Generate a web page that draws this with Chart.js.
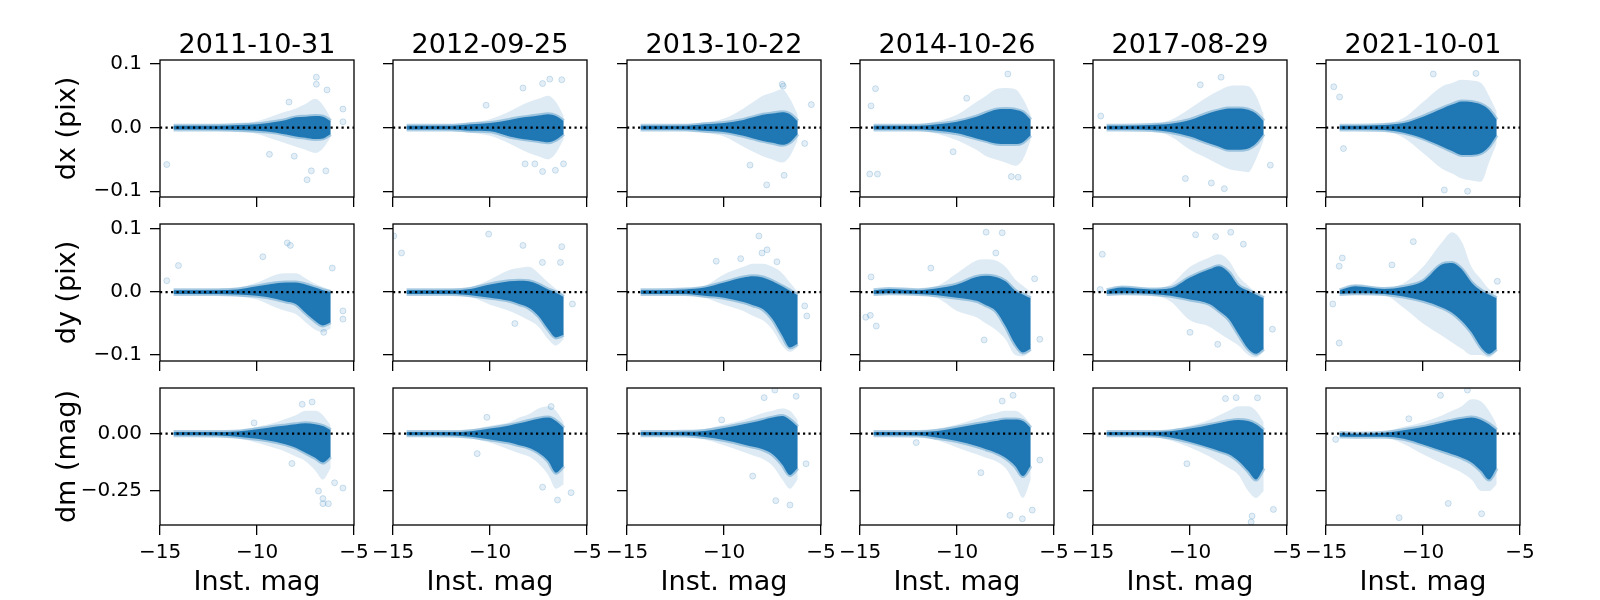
<!DOCTYPE html>
<html>
<head>
<meta charset="utf-8">
<script src="https://cdn.jsdelivr.net/npm/chart.js@4.4.0/dist/chart.umd.min.js"></script>
<style>
  html, body { margin: 0; padding: 0; background: #fff; }
  #fig { position: relative; width: 1600px; height: 600px; overflow: hidden; }
  #fig canvas { position: absolute; }
</style>
</head>
<body>
<div id="fig"></div>
<script>
// ======== DATA ===========
const dates = ['2011-10-31', '2012-09-25', '2013-10-22', '2014-10-26', '2017-08-29', '2021-10-01'];
const rowLabels = ['dx (pix)', 'dy (pix)', 'dm (mag)'];
const xLabel = 'Inst. mag';
const xTicks = [-15, -10, -5];
const yTicks = [[-0.1, 0, 0.1], [-0.1, 0, 0.1], [-0.25, 0]];
const yDecimals = [1, 1, 2];
const yRange = [[-0.109, 0.106], [-0.1095, 0.108], [-0.398, 0.199]];

const mags = [-14.3, -13.5, -12, -11, -10, -9, -8.5, -8, -7.5, -7, -6.6, -6.2];

// dx: dense core and faint halo, upper / lower edge per date
const dxCoreHi = [
  [0.003, 0.003, 0.003, 0.004, 0.005, 0.009, 0.012, 0.016, 0.017, 0.018, 0.017, 0.01],
  [0.003, 0.003, 0.003, 0.005, 0.007, 0.012, 0.015, 0.017, 0.019, 0.021, 0.018, 0.01],
  [0.003, 0.003, 0.003, 0.005, 0.007, 0.012, 0.016, 0.02, 0.022, 0.024, 0.021, 0.01],
  [0.003, 0.003, 0.003, 0.005, 0.009, 0.017, 0.023, 0.028, 0.029, 0.028, 0.024, 0.012],
  [0.003, 0.003, 0.004, 0.006, 0.012, 0.023, 0.027, 0.03, 0.03, 0.028, 0.022, 0.01],
  [0.003, 0.003, 0.004, 0.007, 0.017, 0.03, 0.036, 0.041, 0.04, 0.036, 0.028, 0.012]
];
const dxCoreLo = [
  [-0.003, -0.003, -0.003, -0.004, -0.005, -0.008, -0.011, -0.014, -0.016, -0.018, -0.017, -0.01],
  [-0.003, -0.003, -0.003, -0.005, -0.006, -0.014, -0.017, -0.019, -0.021, -0.023, -0.019, -0.01],
  [-0.003, -0.003, -0.003, -0.005, -0.007, -0.013, -0.017, -0.021, -0.024, -0.027, -0.023, -0.01],
  [-0.003, -0.003, -0.003, -0.005, -0.009, -0.017, -0.021, -0.025, -0.026, -0.026, -0.023, -0.012],
  [-0.003, -0.003, -0.004, -0.007, -0.014, -0.025, -0.03, -0.035, -0.035, -0.033, -0.025, -0.01],
  [-0.003, -0.003, -0.004, -0.008, -0.017, -0.03, -0.037, -0.043, -0.043, -0.04, -0.03, -0.012]
];
const dxHaloHi = [
  [0.004, 0.004, 0.005, 0.006, 0.01, 0.02, 0.025, 0.03, 0.037, 0.045, 0.035, 0.015],
  [0.004, 0.004, 0.005, 0.008, 0.013, 0.025, 0.033, 0.04, 0.045, 0.05, 0.04, 0.018],
  [0.004, 0.004, 0.005, 0.008, 0.014, 0.03, 0.04, 0.05, 0.055, 0.06, 0.045, 0.02],
  [0.004, 0.004, 0.005, 0.01, 0.02, 0.04, 0.05, 0.06, 0.062, 0.06, 0.045, 0.02],
  [0.004, 0.004, 0.006, 0.012, 0.03, 0.05, 0.058, 0.065, 0.066, 0.065, 0.05, 0.02],
  [0.004, 0.004, 0.006, 0.015, 0.04, 0.065, 0.07, 0.075, 0.074, 0.07, 0.05, 0.025]
];
const dxHaloLo = [
  [-0.004, -0.004, -0.005, -0.006, -0.01, -0.02, -0.025, -0.03, -0.035, -0.04, -0.033, -0.015],
  [-0.004, -0.004, -0.005, -0.008, -0.013, -0.025, -0.033, -0.04, -0.045, -0.05, -0.04, -0.018],
  [-0.004, -0.004, -0.005, -0.008, -0.014, -0.03, -0.038, -0.045, -0.05, -0.055, -0.045, -0.02],
  [-0.004, -0.004, -0.005, -0.01, -0.02, -0.035, -0.045, -0.05, -0.055, -0.06, -0.05, -0.02],
  [-0.004, -0.004, -0.006, -0.014, -0.035, -0.05, -0.058, -0.065, -0.068, -0.07, -0.05, -0.02],
  [-0.004, -0.004, -0.006, -0.016, -0.04, -0.065, -0.072, -0.08, -0.083, -0.085, -0.055, -0.025]
];
const dxOut = [
  [[-14.65, -0.058], [-6.94, 0.079], [-6.94, 0.068], [-6.39, 0.059], [-7.42, -0.082], [-7.2, -0.068], [-6.45, -0.068], [-9.36, -0.042], [-8.08, -0.045], [-8.35, 0.04], [-5.57, 0.029], [-5.57, 0.009]],
  [[-8.3, 0.062], [-7.29, 0.069], [-6.92, 0.076], [-6.3, 0.075], [-10.2, 0.035], [-8.19, -0.057], [-7.29, -0.069], [-6.63, -0.067], [-7.69, -0.057], [-6.21, -0.057]],
  [[-7.0, 0.068], [-6.95, 0.065], [-7.8, -0.09], [-6.9, -0.075], [-8.66, -0.059], [-5.5, 0.036], [-5.84, -0.025]],
  [[-14.2, 0.061], [-14.43, 0.034], [-14.5, -0.073], [-14.1, -0.073], [-7.38, 0.084], [-10.2, -0.038], [-7.2, -0.077], [-6.85, -0.078], [-9.5, 0.046]],
  [[-8.4, 0.079], [-9.47, 0.067], [-8.23, -0.096], [-10.24, -0.08], [-5.86, -0.059], [-14.6, 0.018], [-8.9, -0.087]],
  [[-14.6, 0.064], [-14.3, 0.048], [-14.1, -0.033], [-9.47, 0.084], [-7.27, 0.085], [-8.9, -0.098], [-7.7, -0.1]]
];

// dy
const dyCoreHi = [
  [0.003, 0.003, 0.003, 0.004, 0.009, 0.014, 0.015, 0.015, 0.012, 0.007, 0.003, 0.0],
  [0.003, 0.003, 0.003, 0.005, 0.012, 0.017, 0.018, 0.017, 0.012, 0.004, -0.001, -0.008],
  [0.003, 0.003, 0.004, 0.007, 0.015, 0.023, 0.025, 0.023, 0.017, 0.009, 0.002, -0.005],
  [0.003, 0.005, 0.003, 0.006, 0.012, 0.024, 0.026, 0.024, 0.017, 0.002, -0.004, -0.01],
  [0.003, 0.007, 0.004, 0.006, 0.023, 0.036, 0.041, 0.031, 0.01, 0.002, -0.004, -0.01],
  [0.003, 0.009, 0.005, 0.008, 0.017, 0.044, 0.046, 0.036, 0.015, 0.002, -0.004, -0.01]
];
const dyCoreLo = [
  [-0.003, -0.003, -0.003, -0.004, -0.006, -0.011, -0.015, -0.019, -0.033, -0.046, -0.053, -0.048],
  [-0.003, -0.003, -0.003, -0.005, -0.009, -0.014, -0.019, -0.025, -0.038, -0.059, -0.072, -0.068],
  [-0.003, -0.003, -0.003, -0.006, -0.009, -0.016, -0.021, -0.027, -0.043, -0.069, -0.088, -0.082],
  [-0.003, -0.002, -0.003, -0.005, -0.009, -0.014, -0.021, -0.03, -0.054, -0.083, -0.096, -0.09],
  [-0.003, -0.002, -0.003, -0.006, -0.012, -0.019, -0.03, -0.043, -0.067, -0.09, -0.098, -0.09],
  [-0.003, -0.002, -0.003, -0.007, -0.014, -0.025, -0.033, -0.046, -0.064, -0.088, -0.098, -0.09]
];
const dyHaloHi = [
  [0.004, 0.004, 0.005, 0.007, 0.015, 0.028, 0.03, 0.03, 0.022, 0.013, 0.008, 0.003],
  [0.004, 0.004, 0.005, 0.008, 0.02, 0.035, 0.038, 0.04, 0.03, 0.015, 0.005, -0.002],
  [0.004, 0.004, 0.006, 0.01, 0.028, 0.04, 0.045, 0.045, 0.04, 0.03, 0.015, 0.0],
  [0.004, 0.006, 0.005, 0.01, 0.03, 0.05, 0.052, 0.05, 0.04, 0.02, 0.01, 0.0],
  [0.004, 0.009, 0.006, 0.012, 0.04, 0.055, 0.06, 0.05, 0.025, 0.01, 0.0, -0.005],
  [0.004, 0.011, 0.007, 0.014, 0.04, 0.08, 0.095, 0.08, 0.04, 0.02, 0.005, 0.0]
];
const dyHaloLo = [
  [-0.004, -0.004, -0.005, -0.007, -0.012, -0.025, -0.03, -0.035, -0.048, -0.06, -0.064, -0.058],
  [-0.004, -0.004, -0.005, -0.008, -0.02, -0.03, -0.037, -0.045, -0.055, -0.075, -0.085, -0.075],
  [-0.004, -0.004, -0.005, -0.009, -0.02, -0.03, -0.038, -0.045, -0.06, -0.085, -0.095, -0.088],
  [-0.004, -0.003, -0.005, -0.01, -0.03, -0.04, -0.05, -0.06, -0.075, -0.1, -0.102, -0.095],
  [-0.004, -0.004, -0.005, -0.015, -0.045, -0.055, -0.065, -0.075, -0.085, -0.1, -0.104, -0.095],
  [-0.004, -0.004, -0.005, -0.025, -0.05, -0.07, -0.08, -0.09, -0.1, -0.1, -0.104, -0.095]
];
const dyOut = [
  [[-14.65, 0.018], [-14.05, 0.042], [-9.7, 0.056], [-8.44, 0.078], [-8.28, 0.074], [-6.12, 0.038], [-5.57, -0.043], [-5.57, -0.03], [-6.56, -0.064]],
  [[-14.96, 0.089], [-14.56, 0.062], [-10.07, 0.092], [-8.3, 0.074], [-6.3, 0.072], [-6.37, 0.047], [-7.3, 0.047], [-8.72, -0.05], [-5.75, -0.019]],
  [[-8.2, 0.089], [-7.78, 0.067], [-8.04, 0.062], [-10.4, 0.049], [-9.14, 0.053], [-7.27, 0.048], [-5.84, -0.022], [-5.73, -0.038]],
  [[-14.43, 0.024], [-14.7, -0.04], [-14.47, -0.037], [-14.16, -0.054], [-11.35, 0.038], [-8.5, 0.095], [-7.67, 0.094], [-8.0, 0.062], [-8.6, -0.076], [-5.73, -0.075], [-6.0, 0.021]],
  [[-14.52, 0.06], [-14.63, 0.004], [-9.71, 0.091], [-8.68, 0.088], [-7.9, 0.095], [-7.25, 0.076], [-10.0, -0.064], [-8.57, -0.083], [-5.75, -0.059]],
  [[-14.65, -0.019], [-14.32, -0.081], [-14.16, 0.054], [-14.32, 0.041], [-11.6, 0.043], [-10.5, 0.08], [-6.17, 0.017]]
];

// dm
const dmCoreHi = [
  [0.007, 0.007, 0.007, 0.009, 0.019, 0.031, 0.036, 0.041, 0.045, 0.041, 0.033, 0.015],
  [0.007, 0.007, 0.007, 0.011, 0.022, 0.036, 0.045, 0.055, 0.065, 0.07, 0.055, 0.025],
  [0.007, 0.007, 0.008, 0.012, 0.025, 0.041, 0.05, 0.06, 0.07, 0.077, 0.06, 0.03],
  [0.007, 0.007, 0.007, 0.012, 0.026, 0.041, 0.048, 0.055, 0.062, 0.062, 0.055, 0.025],
  [0.007, 0.007, 0.007, 0.01, 0.022, 0.038, 0.046, 0.055, 0.06, 0.055, 0.041, 0.015],
  [0.003, 0.0, 0.004, 0.015, 0.029, 0.048, 0.057, 0.065, 0.07, 0.06, 0.041, 0.015]
];
const dmCoreLo = [
  [-0.007, -0.007, -0.008, -0.013, -0.022, -0.036, -0.047, -0.061, -0.083, -0.105, -0.126, -0.1],
  [-0.007, -0.007, -0.008, -0.013, -0.025, -0.039, -0.05, -0.061, -0.083, -0.119, -0.17, -0.14],
  [-0.007, -0.007, -0.008, -0.015, -0.028, -0.047, -0.057, -0.068, -0.09, -0.134, -0.18, -0.15],
  [-0.007, -0.007, -0.008, -0.018, -0.032, -0.054, -0.068, -0.083, -0.105, -0.141, -0.185, -0.14],
  [-0.007, -0.007, -0.008, -0.017, -0.036, -0.061, -0.075, -0.09, -0.119, -0.163, -0.2, -0.15],
  [-0.012, -0.013, -0.013, -0.022, -0.047, -0.076, -0.09, -0.105, -0.126, -0.163, -0.2, -0.15]
];
const dmHaloHi = [
  [0.009, 0.009, 0.01, 0.015, 0.03, 0.05, 0.065, 0.08, 0.1, 0.1, 0.08, 0.035],
  [0.009, 0.009, 0.01, 0.018, 0.035, 0.05, 0.07, 0.085, 0.11, 0.12, 0.1, 0.05],
  [0.009, 0.009, 0.012, 0.02, 0.04, 0.06, 0.075, 0.09, 0.1, 0.11, 0.1, 0.06],
  [0.009, 0.009, 0.012, 0.022, 0.04, 0.065, 0.08, 0.09, 0.1, 0.1, 0.08, 0.04],
  [0.009, 0.009, 0.01, 0.018, 0.035, 0.06, 0.08, 0.1, 0.12, 0.12, 0.1, 0.05],
  [0.006, 0.003, 0.008, 0.03, 0.05, 0.08, 0.1, 0.12, 0.15, 0.14, 0.1, 0.04]
];
const dmHaloLo = [
  [-0.009, -0.009, -0.012, -0.02, -0.04, -0.065, -0.08, -0.1, -0.12, -0.16, -0.2, -0.15],
  [-0.009, -0.009, -0.012, -0.02, -0.04, -0.07, -0.085, -0.1, -0.13, -0.18, -0.24, -0.22],
  [-0.009, -0.009, -0.012, -0.025, -0.05, -0.08, -0.095, -0.11, -0.14, -0.2, -0.24, -0.2],
  [-0.009, -0.009, -0.012, -0.03, -0.06, -0.09, -0.105, -0.12, -0.15, -0.22, -0.28, -0.2],
  [-0.009, -0.009, -0.012, -0.03, -0.06, -0.1, -0.125, -0.15, -0.18, -0.25, -0.28, -0.25],
  [-0.015, -0.016, -0.017, -0.045, -0.09, -0.13, -0.15, -0.17, -0.2, -0.25, -0.25, -0.22]
];
const dmOut = [
  [[-7.67, 0.128], [-7.16, 0.138], [-6.83, -0.25], [-6.6, -0.283], [-6.32, -0.305], [-6.6, -0.305], [-5.57, -0.237], [-8.2, -0.13], [-10.15, 0.047], [-6.0, -0.214]],
  [[-10.16, 0.071], [-10.66, -0.087], [-7.29, -0.233], [-6.52, -0.289], [-5.82, -0.257], [-6.85, 0.118]],
  [[-7.38, 0.19], [-7.93, 0.157], [-6.28, 0.163], [-7.33, -0.292], [-6.6, -0.311], [-8.52, -0.185], [-10.12, 0.06], [-5.77, -0.131]],
  [[-7.11, 0.167], [-7.67, 0.142], [-7.27, -0.356], [-6.63, -0.371], [-6.12, -0.333], [-8.77, -0.17], [-5.73, -0.115], [-12.1, -0.039]],
  [[-8.17, 0.153], [-7.62, 0.157], [-6.52, 0.156], [-10.16, -0.131], [-6.8, -0.359], [-6.85, -0.385], [-5.7, -0.33]],
  [[-7.71, 0.19], [-9.1, 0.167], [-11.23, -0.366], [-6.98, -0.349], [-8.7, -0.304], [-10.73, 0.065], [-14.5, -0.025]]
];

const coreHi = [dxCoreHi, dyCoreHi, dmCoreHi];
const coreLo = [dxCoreLo, dyCoreLo, dmCoreLo];
const haloHi = [dxHaloHi, dyHaloHi, dmHaloHi];
const haloLo = [dxHaloLo, dyHaloLo, dmHaloLo];
const outliers = [dxOut, dyOut, dmOut];

// ======== LAYOUT ===========
const AX_W = 194, AX_H = 137;
const colLeft = [160, 393, 627, 860, 1093, 1326];
const rowTop = [60, 224, 388];
const Y_BOX = 110, RIGHT_PAD = 30;
const azul = '#1f77b4';

Chart.defaults.font.family = "'DejaVu Sans', sans-serif";
Chart.defaults.font.size = 20;
Chart.defaults.color = '#000';

const moldura = {
  id: 'moldura',
  afterDatasetsDraw(chart) {
    const { ctx, chartArea: a } = chart;
    ctx.save();
    ctx.strokeStyle = '#000';
    ctx.lineWidth = 1.3;
    ctx.strokeRect(a.left, a.top, a.right - a.left, a.bottom - a.top);
    ctx.restore();
  }
};

const tituloData = {
  id: 'tituloData',
  afterDraw(chart, args, opts) {
    if (!opts.text) return;
    const { ctx, chartArea: a } = chart;
    ctx.save();
    ctx.font = "27px 'DejaVu Sans'";
    ctx.fillStyle = '#000';
    ctx.textAlign = 'center';
    ctx.textBaseline = 'alphabetic';
    ctx.fillText(opts.text, (a.left + a.right) / 2, a.top - 7);
    ctx.restore();
  }
};

const menos = s => s.replace('-', '\u2212');
const pontos = ys => mags.map((m, k) => ({ x: m, y: ys[k] }));
const fig = document.getElementById('fig');

for (let r = 0; r < 3; r++) {
  for (let c = 0; c < 6; c++) {
    const padTop = r === 0 ? rowTop[0] : 20;
    const xBox = r === 2 ? 75 : 25;
    const cv = document.createElement('canvas');
    cv.width = Y_BOX + AX_W + RIGHT_PAD;
    cv.height = padTop + AX_H + xBox;
    cv.style.left = (colLeft[c] - Y_BOX) + 'px';
    cv.style.top = (rowTop[r] - padTop) + 'px';
    fig.appendChild(cv);

    const faixa = { pointRadius: 0, cubicInterpolationMode: 'monotone' };

    new Chart(cv, {
      type: 'line',
      data: {
        datasets: [
          { ...faixa, data: pontos(haloLo[r][c]), borderWidth: 0, borderColor: 'rgba(0,0,0,0)', fill: false, order: 3 },
          { ...faixa, data: pontos(haloHi[r][c]), borderWidth: 0, borderColor: 'rgba(0,0,0,0)', fill: '-1', backgroundColor: 'rgba(31,119,180,0.15)', order: 3 },
          { ...faixa, data: pontos(coreLo[r][c]), borderWidth: 4, borderColor: 'rgba(31,119,180,0.35)', fill: false, order: 2 },
          { ...faixa, data: pontos(coreHi[r][c]), borderWidth: 4, borderColor: 'rgba(31,119,180,0.35)', fill: '-1', backgroundColor: azul, order: 2 },
          {
            data: outliers[r][c].map(([x, y]) => ({ x, y })),
            showLine: false, pointRadius: 3, borderWidth: 1,
            backgroundColor: 'rgba(31,119,180,0.12)', borderColor: 'rgba(31,119,180,0.2)', order: 1
          },
          {
            data: [{ x: -15, y: 0 }, { x: -5, y: 0 }],
            pointRadius: 0, borderColor: '#000', borderWidth: 2.2, borderDash: [2.2, 3.3], fill: false, order: 0
          }
        ]
      },
      options: {
        responsive: false,
        animation: false,
        devicePixelRatio: 1,
        events: [],
        layout: { padding: { top: padTop, right: RIGHT_PAD, left: 0, bottom: 0 } },
        plugins: {
          legend: { display: false },
          tooltip: { enabled: false },
          tituloData: { text: r === 0 ? dates[c] : '' }
        },
        scales: {
          x: {
            type: 'linear', min: -15, max: -5,
            afterBuildTicks: s => { s.ticks = xTicks.map(v => ({ value: v })); },
            afterFit: s => { s.height = xBox; },
            border: { display: false },
            grid: { drawOnChartArea: false, drawTicks: true, tickLength: 10, color: '#000', lineWidth: 1.3 },
            ticks: { display: r === 2, padding: 6, font: { size: 20 }, maxRotation: 0, callback: v => menos(String(v)) },
            title: { display: r === 2, text: xLabel, font: { size: 27 }, padding: { top: 0, bottom: 1 } }
          },
          y: {
            type: 'linear', min: yRange[r][0], max: yRange[r][1],
            afterBuildTicks: s => { s.ticks = yTicks[r].map(v => ({ value: v })); },
            afterFit: s => { s.width = Y_BOX; },
            border: { display: false },
            grid: { drawOnChartArea: false, drawTicks: true, tickLength: 10, color: '#000', lineWidth: 1.3 },
            ticks: { display: c === 0, padding: 8, font: { size: 20 }, callback: v => menos(v.toFixed(yDecimals[r])) },
            title: { display: c === 0, text: rowLabels[r], font: { size: 27 }, padding: { top: 2, bottom: 0 } }
          }
        }
      },
      plugins: [moldura, tituloData]
    });
  }
}
</script>
</body>
</html>
